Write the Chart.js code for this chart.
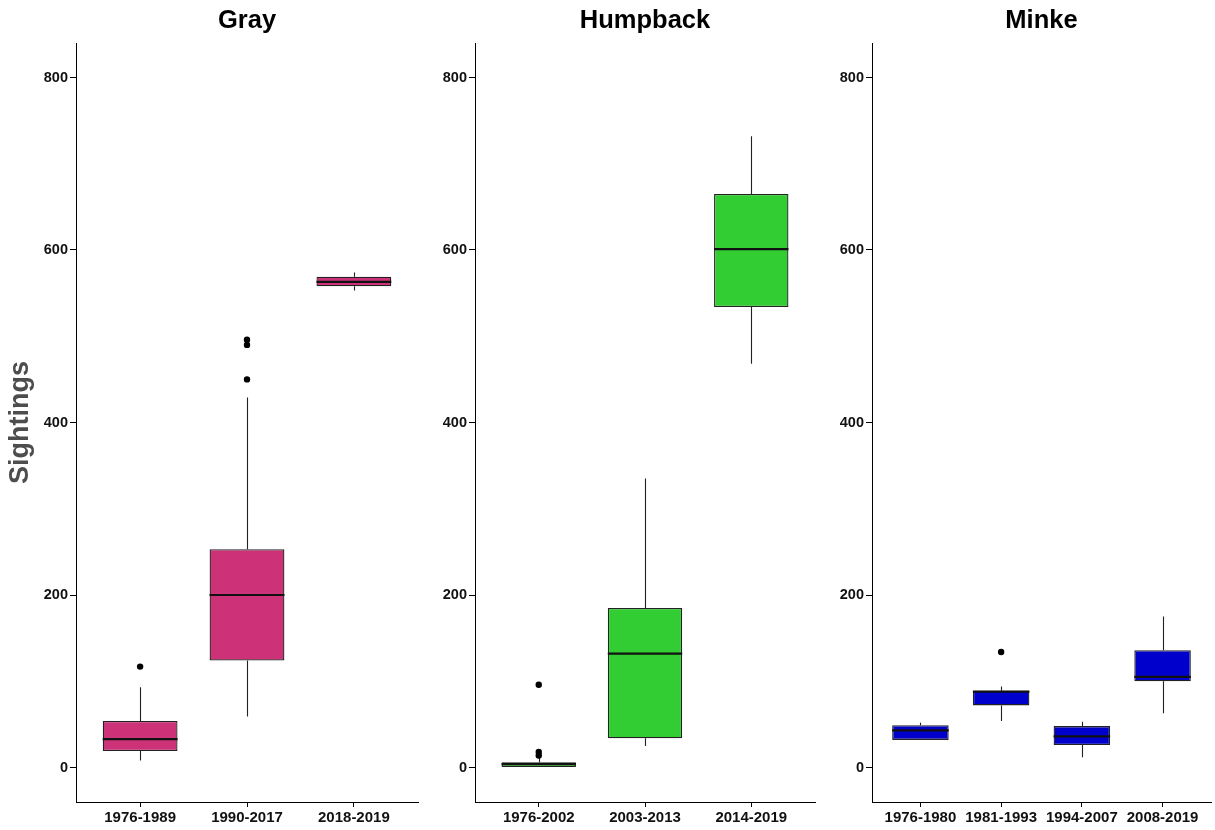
<!DOCTYPE html>
<html><head><meta charset="utf-8">
<script src="https://cdn.jsdelivr.net/npm/chart.js@4.4.0/dist/chart.umd.min.js"></script>
<style>
html,body{margin:0;padding:0;background:#fff;width:1215px;height:830px;overflow:hidden}
.p{position:absolute;top:0}
</style></head><body>
<div class="p" style="left:0"><canvas id="c0" width="422" height="830"></canvas></div>
<div class="p" style="left:422px"><canvas id="c1" width="397" height="830"></canvas></div>
<div class="p" style="left:819px"><canvas id="c2" width="396" height="830"></canvas></div>
<script>
// ---- data ----
const yTickValues = [0, 200, 400, 600, 800];

const grayCats = ['1976-1989', '1990-2017', '2018-2019'];
const grayMin  = [8, 59, 553];
const grayQ1   = [19, 124, 558];
const grayMed  = [33, 200, 563];
const grayQ3   = [54, 253, 569];
const grayMax  = [93, 429, 574];
const grayOut  = [[117], [450, 490, 496], []];

const humpCats = ['1976-2002', '2003-2013', '2014-2019'];
const humpMin  = [0, 25, 468];
const humpQ1   = [0, 34, 534];
const humpMed  = [4, 132, 601];
const humpQ3   = [6, 185, 665];
const humpMax  = [11, 335, 732];
const humpOut  = [[14, 18, 96], [], []];

const minkeCats = ['1976-1980', '1981-1993', '1994-2007', '2008-2019'];
const minkeMin  = [32, 54, 12, 63];
const minkeQ1   = [32, 72, 26, 100];
const minkeMed  = [43, 88, 36, 105];
const minkeQ3   = [49, 89, 48, 136];
const minkeMax  = [52, 94, 53, 175];
const minkeOut  = [[], [134], [], []];

const panelTitles = ['Gray', 'Humpback', 'Minke'];
const panelColors = ['#CD3278', '#32CD32', '#0000CD'];

// ---- drawing ----
const FONT = "'Liberation Sans', Arial, sans-serif";

const boxExtras = {
  id: 'boxExtras',
  beforeDatasetsDraw(chart, args, opts) {
    const meta = chart.getDatasetMeta(0);
    const ys = chart.scales.y;
    const ctx = chart.ctx;
    ctx.save();
    ctx.strokeStyle = '#222222';
    ctx.lineWidth = 1.1;
    meta.data.forEach((el, i) => {
      const x = Math.round(el.x) + 0.5;
      ctx.beginPath();
      ctx.moveTo(x, ys.getPixelForValue(opts.q3[i]));
      ctx.lineTo(x, ys.getPixelForValue(opts.max[i]));
      ctx.moveTo(x, ys.getPixelForValue(opts.q1[i]));
      ctx.lineTo(x, ys.getPixelForValue(opts.min[i]));
      ctx.stroke();
    });
    ctx.restore();
  },
  afterDatasetsDraw(chart, args, opts) {
    const meta = chart.getDatasetMeta(0);
    const ys = chart.scales.y;
    const ctx = chart.ctx;
    ctx.save();
    ctx.strokeStyle = '#111111';
    ctx.lineWidth = 2.2;
    meta.data.forEach((el, i) => {
      const y = ys.getPixelForValue(opts.med[i]);
      ctx.beginPath();
      ctx.moveTo(el.x - el.width / 2, y);
      ctx.lineTo(el.x + el.width / 2, y);
      ctx.stroke();
    });
    ctx.restore();
  }
};

function makePanel(id, idx, cats, mn, q1, med, q3, mx, outs, yWidth) {
  const boxData = cats.map((c, i) => ({ x: i + 1, y: [q1[i], q3[i]] }));
  const outData = [];
  outs.forEach((arr, i) => arr.forEach(v => outData.push({ x: i + 1, y: v })));
  new Chart(document.getElementById(id), {
    type: 'bar',
    data: {
      datasets: [
        {
          type: 'bar',
          data: boxData,
          backgroundColor: panelColors[idx],
          borderColor: '#222222',
          borderWidth: 1.3,
          borderSkipped: false,
          barPercentage: 0.7,
          categoryPercentage: 1
        },
        {
          type: 'scatter',
          data: outData,
          pointRadius: 3.2,
          pointBackgroundColor: '#000',
          pointBorderColor: '#000',
          pointBorderWidth: 0
        }
      ]
    },
    options: {
      responsive: false,
      animation: false,
      layout: { padding: { left: 0, right: 0, top: 0, bottom: 0 } },
      plugins: {
        legend: { display: false },
        tooltip: { enabled: false },
        title: {
          display: true,
          text: panelTitles[idx],
          fullSize: false,
          color: '#000',
          font: { family: FONT, size: 25.5, weight: 'bold' },
          padding: { top: 6, bottom: 6.4 }
        },
        boxExtras: { min: mn, q1: q1, med: med, q3: q3, max: mx }
      },
      scales: {
        x: {
          type: 'linear',
          min: 0.4,
          max: cats.length + 0.6,
          offset: false,
          afterBuildTicks: s => { s.ticks = cats.map((c, i) => ({ value: i + 1 })); },
          afterFit: s => { s.height = 28; },
          ticks: {
            autoSkip: false,
            maxRotation: 0,
            padding: 2,
            color: '#111',
            font: { family: FONT, size: 15, weight: 'bold' },
            callback: v => cats[Math.round(v) - 1]
          },
          grid: { display: true, drawOnChartArea: false, drawTicks: true, tickLength: 5, color: '#000', offset: false },
          border: { display: true, color: '#000', width: 1 }
        },
        y: {
          type: 'linear',
          min: -40,
          max: 840,
          afterBuildTicks: s => { s.ticks = yTickValues.map(v => ({ value: v })); },
          afterFit: s => { s.width = yWidth; },
          ticks: {
            padding: 2,
            color: '#111',
            font: { family: FONT, size: 14.5, weight: 'bold' }
          },
          grid: { display: true, drawOnChartArea: false, drawTicks: true, tickLength: 6, color: '#000' },
          border: { display: true, color: '#000', width: 1 },
          title: {
            display: idx === 0,
            text: 'Sightings',
            color: '#4d4d4d',
            font: { family: FONT, size: 27, weight: 'bold' },
            padding: { top: 4, bottom: 0 }
          }
        }
      }
    },
    plugins: [boxExtras]
  });
}

makePanel('c0', 0, grayCats, grayMin, grayQ1, grayMed, grayQ3, grayMax, grayOut, 76);
makePanel('c1', 1, humpCats, humpMin, humpQ1, humpMed, humpQ3, humpMax, humpOut, 53);
makePanel('c2', 2, minkeCats, minkeMin, minkeQ1, minkeMed, minkeQ3, minkeMax, minkeOut, 53);
</script>
</body></html>
